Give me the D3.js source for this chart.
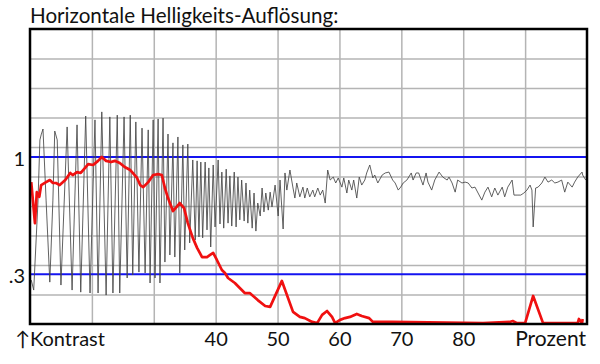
<!DOCTYPE html>
<html>
<head>
<meta charset="utf-8">
<script src="https://cdn.jsdelivr.net/npm/d3@7"></script>
<style>
    body { margin: 0; background: #fff; }
    svg { display: block; }
    text { font-family: Lato, "Open Sans", sans-serif; fill: #111; }
</style>
</head>
<body>
<svg id="chart" width="600" height="364"></svg>
<script>
// x = Prozent (10..100), y = Helligkeit in Rastereinheiten (0..10)
let xGrid = [20, 30, 40, 50, 60, 70, 80, 90];
let xLabels = [40, 50, 60, 70, 80];
let yGrid = [1, 2, 3, 4, 5, 6, 7, 8, 9];
let refValues = [5.66, 1.69];
let refLabels = ['1', '.3'];

// gemessenes Helligkeitssignal (schwarz)
let signal = [
    [10.2, 1.49], [10.6, 1.15], [11.3, 4.20], [11.6, 6.24], [11.8, 6.41], [12.1, 6.61], [12.6, 4.20],
    [13.2, 1.42], [13.7, 4.20], [14.0, 6.54], [14.4, 6.24], [15.0, 1.32], [16.0, 6.68], [16.8, 1.15],
    [17.6, 6.75], [18.2, 1.08], [19.0, 7.05], [19.7, 1.05], [20.5, 6.92], [21.0, 1.05], [21.6, 7.19],
    [22.3, 0.98], [22.9, 7.02], [23.4, 1.05], [24.1, 7.08], [24.5, 1.05], [25.2, 7.02], [25.7, 1.56],
    [26.2, 7.08], [26.6, 1.66], [27.1, 6.85], [27.6, 1.76], [28.1, 6.64], [28.6, 1.73], [29.1, 6.58],
    [29.4, 1.39], [29.9, 6.92], [30.2, 1.56], [30.7, 6.95], [31.0, 1.39], [31.5, 6.98], [31.8, 2.10],
    [32.3, 6.44], [32.6, 2.34], [33.1, 6.14], [33.4, 2.27], [33.9, 6.34], [34.2, 1.73], [34.7, 6.07],
    [35.0, 2.51], [35.5, 6.10], [35.8, 2.75], [36.3, 5.56], [36.7, 2.85], [37.0, 5.53], [37.3, 2.95],
    [37.6, 5.49], [37.9, 2.92], [38.3, 5.49], [38.6, 3.19], [38.9, 5.29], [39.2, 2.61], [39.6, 5.39],
    [39.9, 3.29], [40.4, 5.56], [40.7, 3.39], [41.0, 5.15], [41.3, 3.25], [41.7, 5.25], [42.0, 3.42],
    [42.3, 5.02], [42.6, 3.32], [43.0, 5.15], [43.3, 3.29], [43.6, 4.98], [43.9, 3.53], [44.2, 4.88],
    [44.6, 3.49], [44.9, 4.78], [45.2, 3.42], [45.5, 4.54], [45.9, 3.25], [46.2, 4.44], [46.5, 3.15],
    [46.8, 4.10], [47.2, 3.66], [47.5, 4.61], [47.8, 3.80], [48.1, 4.44], [48.5, 3.86], [48.8, 4.47],
    [49.1, 3.97], [49.6, 4.71], [50.1, 3.66], [50.4, 4.88], [50.9, 3.22], [51.2, 5.12], [51.5, 4.54],
    [52.0, 5.22], [52.5, 4.61], [52.8, 4.27], [53.1, 4.78], [53.6, 4.31], [54.1, 4.64], [54.4, 4.27],
    [54.8, 4.61], [55.2, 4.31], [55.7, 4.54], [56.0, 4.31], [56.5, 4.61], [56.9, 4.37], [57.3, 4.54],
    [57.7, 4.10], [58.1, 5.22], [58.5, 4.88], [59.0, 4.98], [59.4, 4.78], [59.8, 4.95], [60.4, 4.64],
    [60.7, 4.95], [61.2, 4.44], [61.5, 4.88], [62.0, 4.54], [62.3, 4.88], [62.8, 4.27], [63.2, 4.98],
    [63.6, 4.71], [64.1, 4.88], [64.4, 5.12], [64.9, 5.39], [65.4, 4.95], [65.7, 5.05], [66.2, 4.78],
    [66.9, 5.05], [67.4, 5.12], [68.0, 5.15], [68.6, 4.88], [69.0, 4.78], [69.5, 4.54], [69.9, 4.64],
    [70.3, 4.78], [70.9, 4.88], [71.6, 5.12], [71.9, 4.88], [72.4, 5.12], [72.8, 5.12], [73.5, 4.71],
    [74.0, 5.12], [74.3, 4.81], [74.9, 4.54], [75.4, 4.88], [76.1, 5.15], [76.7, 4.98], [77.4, 4.88],
    [77.7, 4.98], [78.2, 4.78], [78.7, 4.47], [79.1, 4.88], [79.8, 4.78], [80.3, 4.81], [80.8, 4.78],
    [81.4, 4.61], [81.9, 4.64], [82.4, 4.44], [83.0, 4.20], [83.5, 4.47], [84.0, 4.64], [84.6, 4.31],
    [85.1, 4.61], [85.6, 4.37], [86.3, 4.64], [86.7, 4.31], [87.2, 4.64], [87.9, 4.88], [88.2, 4.37],
    [88.7, 4.37], [89.3, 4.37], [89.8, 4.44], [90.3, 4.54], [90.8, 4.71], [91.1, 4.54], [91.3, 3.29],
    [91.7, 4.61], [92.1, 4.64], [92.7, 4.78], [93.2, 4.98], [93.7, 4.81], [94.3, 4.88], [94.8, 4.78],
    [95.3, 4.81], [95.9, 4.88], [96.4, 4.47], [96.9, 4.81], [97.6, 4.64], [98.0, 4.81], [98.5, 4.98],
    [99.2, 5.15], [99.3, 5.05], [99.8, 4.88]
];

// Kontrast (rot)
let contrast = [
    [10.2, 4.81], [10.8, 3.42], [11.1, 4.47], [11.5, 4.31], [11.8, 4.71], [12.6, 4.81], [13.2, 4.88],
    [13.7, 4.78], [14.2, 4.78], [14.8, 4.71], [15.7, 4.88], [16.5, 5.12], [16.9, 5.05], [17.6, 5.15],
    [18.2, 5.12], [18.9, 5.29], [19.4, 5.42], [20.2, 5.39], [21.0, 5.53], [21.6, 5.66], [22.3, 5.53],
    [23.1, 5.49], [23.7, 5.53], [24.5, 5.46], [25.3, 5.32], [26.2, 5.22], [26.6, 5.12], [27.3, 4.95],
    [27.8, 4.71], [28.3, 4.64], [29.1, 4.81], [29.9, 5.05], [30.7, 5.08], [31.3, 5.05], [31.8, 4.61],
    [32.3, 4.27], [33.1, 3.83], [33.7, 3.97], [34.2, 4.10], [34.9, 3.93], [35.5, 3.42], [36.3, 2.92],
    [37.0, 2.58], [37.8, 2.27], [38.6, 2.27], [39.1, 2.34], [39.6, 2.41], [40.2, 2.17], [41.0, 1.83],
    [41.5, 1.73], [42.0, 1.56], [43.1, 1.39], [43.9, 1.22], [44.7, 1.05], [45.5, 1.05], [46.8, 0.81],
    [48.0, 0.61], [48.8, 0.58], [50.7, 1.46], [52.5, 0.41], [53.6, 0.24], [54.4, 0.20], [55.6, 0.07],
    [56.4, 0.03], [57.2, 0.31], [58.0, 0.44], [58.8, 0.24], [59.3, 0.03], [60.1, 0.14], [60.9, 0.20],
    [61.7, 0.24], [62.8, 0.34], [63.6, 0.27], [64.8, 0.20], [65.4, 0.07], [68.5, 0.07], [83.2, 0.03],
    [87.5, 0.07], [88.0, 0.10], [88.7, 0.03], [90.0, 0.03], [91.3, 0.95], [92.9, 0.03], [98.5, 0.03],
    [98.7, 0.17], [99.2, 0.03], [99.3, 0.17]
];

const svg = d3.select('#chart');

const x = d3.scaleLinear().domain([10, 100]).range([30, 587]);
const y = d3.scaleLinear().domain([0, 10]).range([324, 29]);

// Gitter
svg.append('g')
    .attr('class', 'grid')
    .attr('transform', 'translate(0,' + y(0) + ')')
    .call(d3.axisBottom(x).tickValues(xGrid).tickSize(y(10) - y(0)).tickFormat(''));

svg.append('g')
    .attr('class', 'grid')
    .attr('transform', 'translate(' + x(10) + ',0)')
    .call(d3.axisLeft(y).tickValues(yGrid).tickSize(x(10) - x(100)).tickFormat(''));

svg.selectAll('.grid .domain').remove();
svg.selectAll('.grid line')
    .attr('stroke', '#b4b4b4')
    .attr('stroke-width', 1.5);

// Referenzlinien 1 und .3
svg.append('g')
    .selectAll('line')
    .data(refValues)
    .join('line')
    .attr('x1', x(10))
    .attr('x2', x(100))
    .attr('y1', d => y(d))
    .attr('y2', d => y(d))
    .attr('stroke', '#1414f0')
    .attr('stroke-width', 2);

const line = d3.line()
    .x(d => x(d[0]))
    .y(d => y(d[1]));

svg.append('path')
    .datum(signal)
    .attr('d', line)
    .attr('fill', 'none')
    .attr('stroke', '#444')
    .attr('stroke-width', 0.85);

svg.append('path')
    .datum(contrast)
    .attr('d', line)
    .attr('fill', 'none')
    .attr('stroke', '#f01010')
    .attr('stroke-width', 2.7)
    .attr('stroke-linejoin', 'round');

// Rahmen
svg.append('rect')
    .attr('x', x(10))
    .attr('y', y(10))
    .attr('width', x(100) - x(10))
    .attr('height', y(0) - y(10))
    .attr('fill', 'none')
    .attr('stroke', '#000')
    .attr('stroke-width', 2.5);

// Achsenbeschriftung
const xAxis = svg.append('g')
    .attr('transform', 'translate(0,' + y(0) + ')')
    .call(d3.axisBottom(x).tickValues(xLabels).tickSize(0).tickPadding(8));
xAxis.select('.domain').remove();
xAxis.selectAll('text').attr('font-size', 20).attr('font-family', null);

const yAxis = svg.append('g')
    .attr('transform', 'translate(' + (x(10) - 5) + ',0)')
    .call(d3.axisLeft(y).tickValues(refValues).tickFormat((d, i) => refLabels[i]).tickSize(0).tickPadding(0));
yAxis.select('.domain').remove();
yAxis.selectAll('text').attr('font-size', 20).attr('font-family', null).attr('dy', '0.42em');

svg.append('text')
    .attr('x', 30)
    .attr('y', 23)
    .attr('font-size', 20.6)
    .text('Horizontale Helligkeits-Auflösung:');

svg.append('text')
    .attr('x', 15)
    .attr('y', 346)
    .attr('font-size', 20)
    .text('\u2191Kontrast');

svg.append('text')
    .attr('x', 586)
    .attr('y', 346)
    .attr('font-size', 21)
    .attr('text-anchor', 'end')
    .text('Prozent');
</script>
</body>
</html>
